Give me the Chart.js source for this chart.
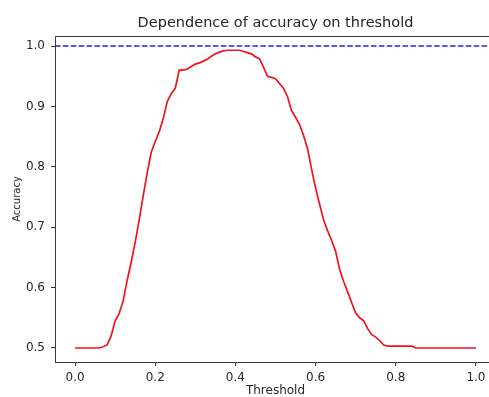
<!DOCTYPE html>
<html lang="en">
<head>
    <meta charset="UTF-8">
    <title>Dependence of accuracy on threshold</title>
    <script src="https://cdn.jsdelivr.net/npm/chart.js"></script>
    <style>
        html, body {
            margin: 0;
            overflow: hidden;
            background-color: #ffffff;
        }
        /* the original figure is cut off on the right, so clip the wider canvas */
        #wrap {
            width: 489px;
            height: 397px;
            overflow: hidden;
        }
    </style>
</head>
<body>
    <div id="wrap">
        <canvas id="accuracyChart" width="496" height="397"></canvas>
    </div>

    <script>
        // threshold values (x) and measured accuracy (y)
        const thresholds = [
            0.00, 0.01, 0.02, 0.03, 0.04, 0.05, 0.06, 0.07, 0.08, 0.09,
            0.10, 0.11, 0.12, 0.13, 0.14, 0.15, 0.16, 0.17, 0.18, 0.19,
            0.20, 0.21, 0.22, 0.23, 0.24, 0.25, 0.26, 0.27, 0.28, 0.29,
            0.30, 0.31, 0.32, 0.33, 0.34, 0.35, 0.36, 0.37, 0.38, 0.39,
            0.40, 0.41, 0.42, 0.43, 0.44, 0.45, 0.46, 0.47, 0.48, 0.49,
            0.50, 0.51, 0.52, 0.53, 0.54, 0.55, 0.56, 0.57, 0.58, 0.59,
            0.60, 0.61, 0.62, 0.63, 0.64, 0.65, 0.66, 0.67, 0.68, 0.69,
            0.70, 0.71, 0.72, 0.73, 0.74, 0.75, 0.76, 0.77, 0.78, 0.79,
            0.80, 0.81, 0.82, 0.83, 0.84, 0.85, 0.86, 0.87, 0.88, 0.89,
            0.90, 0.91, 0.92, 0.93, 0.94, 0.95, 0.96, 0.97, 0.98, 0.99,
            1.00
        ];
        const accuracy = [
            0.500, 0.500, 0.500, 0.500, 0.500, 0.500, 0.500, 0.502, 0.505, 0.520,
            0.545, 0.557, 0.578, 0.612, 0.642, 0.675, 0.712, 0.752, 0.790, 0.824,
            0.842, 0.858, 0.880, 0.908, 0.921, 0.930, 0.960, 0.960, 0.962, 0.966,
            0.970, 0.972, 0.975, 0.978, 0.983, 0.987, 0.990, 0.992, 0.993, 0.993,
            0.993, 0.993, 0.991, 0.989, 0.987, 0.982, 0.979, 0.965, 0.950, 0.948,
            0.946, 0.938, 0.930, 0.916, 0.893, 0.882, 0.870, 0.852, 0.830, 0.796,
            0.765, 0.738, 0.712, 0.694, 0.678, 0.660, 0.630, 0.610, 0.593, 0.575,
            0.558, 0.550, 0.545, 0.532, 0.522, 0.518, 0.512, 0.505, 0.503, 0.503,
            0.503, 0.503, 0.503, 0.503, 0.503, 0.500, 0.500, 0.500, 0.500, 0.500,
            0.500, 0.500, 0.500, 0.500, 0.500, 0.500, 0.500, 0.500, 0.500, 0.500,
            0.500
        ];
        // perfect accuracy reference line, spans the whole axes
        const referenceX = [-0.05, 1.05];
        const referenceY = [1.0, 1.0];

        const xTicks = [0.0, 0.2, 0.4, 0.6, 0.8, 1.0];
        const yTicks = [0.5, 0.6, 0.7, 0.8, 0.9, 1.0];

        const chartTitle = 'Dependence of accuracy on threshold';
        const textColor = '#262626';
        const fontFamily = '"DejaVu Sans", sans-serif';

        // spines around the plot area, and the title centred over the axes (matplotlib style)
        const framePlugin = {
            id: 'frame',
            afterDraw(chart) {
                const { ctx, chartArea } = chart;
                ctx.save();
                ctx.strokeStyle = '#3a3a3a';
                ctx.lineWidth = 1;
                ctx.strokeRect(chartArea.left + 0.5, chartArea.top + 0.5,
                    chartArea.right - chartArea.left, chartArea.bottom - chartArea.top);

                ctx.fillStyle = textColor;
                ctx.font = '14.5px ' + fontFamily;
                ctx.textAlign = 'center';
                ctx.textBaseline = 'middle';
                ctx.fillText(chartTitle, (chartArea.left + chartArea.right) / 2, 23);
                ctx.restore();
            }
        };

        const ctx = document.getElementById('accuracyChart').getContext('2d');
        new Chart(ctx, {
            type: 'line',
            data: {
                datasets: [
                    {
                        label: 'accuracy',
                        data: thresholds.map((t, i) => ({ x: t, y: accuracy[i] })),
                        borderColor: '#f0141e',
                        borderWidth: 1.7,
                        pointRadius: 0,
                        tension: 0,
                        fill: false
                    },
                    {
                        label: 'max',
                        data: referenceX.map((t, i) => ({ x: t, y: referenceY[i] })),
                        borderColor: '#2525f0',
                        borderWidth: 1.5,
                        borderDash: [5.5, 2.4],
                        pointRadius: 0,
                        fill: false
                    }
                ]
            },
            options: {
                responsive: false,
                animation: false,
                layout: { padding: { top: 36 }, autoPadding: false },
                plugins: {
                    legend: { display: false },
                    tooltip: { enabled: false },
                    title: { display: false }
                },
                scales: {
                    x: {
                        type: 'linear',
                        min: -0.05,
                        max: 1.05,
                        afterBuildTicks: axis => { axis.ticks = xTicks.map(v => ({ value: v })); },
                        afterFit: axis => {
                            axis.height = 35;
                            axis.paddingLeft = 0;
                            axis.paddingRight = 0;
                        },
                        ticks: {
                            color: textColor,
                            padding: 5,
                            maxRotation: 0,
                            font: { family: fontFamily, size: 12 },
                            callback: v => v.toFixed(1)
                        },
                        grid: {
                            drawOnChartArea: false,
                            drawTicks: true,
                            tickLength: 4,
                            color: '#333'
                        },
                        border: { display: false },
                        title: {
                            display: true,
                            text: 'Threshold',
                            color: textColor,
                            font: { family: fontFamily, size: 12, lineHeight: 1 },
                            padding: { top: 0, bottom: 0 }
                        }
                    },
                    y: {
                        min: 0.4768,
                        max: 1.0166,
                        afterBuildTicks: axis => { axis.ticks = yTicks.map(v => ({ value: v })); },
                        afterFit: axis => {
                            axis.width = 55;
                            axis.paddingTop = 0;
                            axis.paddingBottom = 0;
                        },
                        ticks: {
                            color: textColor,
                            padding: 6,
                            font: { family: fontFamily, size: 12 },
                            callback: v => v.toFixed(1)
                        },
                        grid: {
                            drawOnChartArea: false,
                            drawTicks: true,
                            tickLength: 4,
                            color: '#333'
                        },
                        border: { display: false },
                        title: {
                            display: true,
                            text: 'Accuracy',
                            color: textColor,
                            font: { family: fontFamily, size: 10, lineHeight: 1.2 },
                            padding: { top: 11, bottom: 0 }
                        }
                    }
                }
            },
            plugins: [framePlugin]
        });
    </script>
</body>
</html>
